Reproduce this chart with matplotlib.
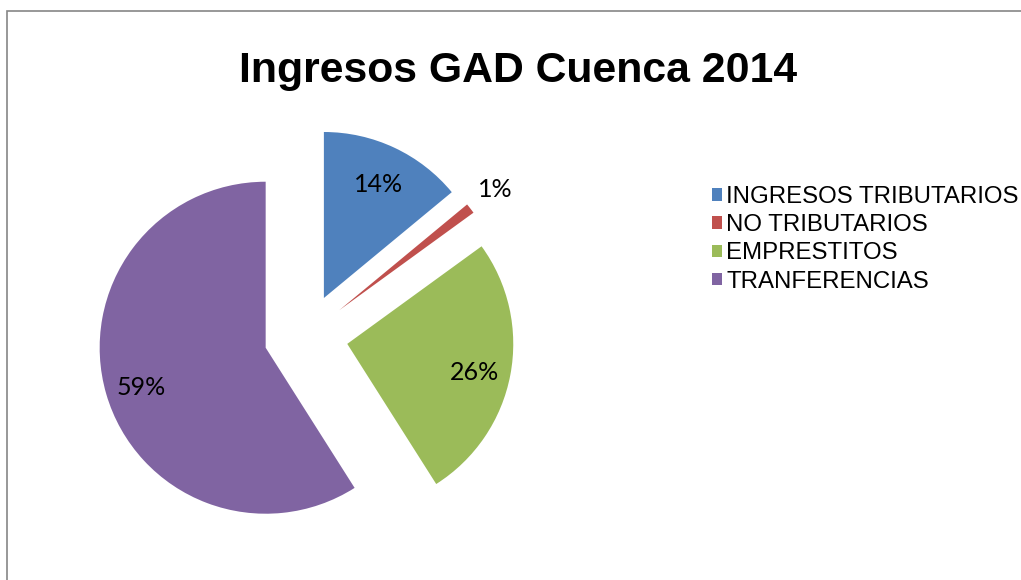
import math

import matplotlib
matplotlib.use("Agg")
import matplotlib.pyplot as plt

# data
categories = ["INGRESOS TRIBUTARIOS", "NO TRIBUTARIOS", "EMPRESTITOS", "TRANFERENCIAS"]
shares = [14, 1, 26, 59]
colors = ["#4F81BD", "#C0504D", "#9BBB59", "#8064A2"]
title = "Ingresos GAD Cuenca 2014"

W, H = 1021, 580
fig = plt.figure(figsize=(W / 100, H / 100), dpi=100)
# axes in pixel units (y measured from the bottom)
ax = fig.add_axes([0, 0, 1, 1])

radius = 166
gap = 42
wedges, _, pcts = ax.pie(
    shares,
    colors=colors,
    startangle=90,
    counterclock=False,
    center=(306, H - 336),
    radius=radius,
    explode=[gap] * len(shares),
    autopct="%1.0f%%",
    pctdistance=0.78,
    textprops=dict(fontsize=18, family=["Lato", "DejaVu Sans"], color="black"),
    wedgeprops=dict(linewidth=0),
)

# tiny slice gets its label outside, like Excel does
for w, t, v in zip(wedges, pcts, shares):
    if v < 3:
        th = math.radians((w.theta1 + w.theta2) / 2)
        cx, cy = w.center
        t.set_position((cx + 1.19 * w.r * math.cos(th), cy + 1.19 * w.r * math.sin(th)))
    else:
        x, y = t.get_position()
        t.set_position((x, y - 4))

ax.set_xlim(0, W)
ax.set_ylim(0, H)
ax.set_aspect("auto")
ax.axis("off")

ax.text(518, H - 82, title, ha="center", va="baseline", fontsize=30.8,
        fontweight="bold", family="Liberation Sans")

# chart border (left and top edges visible in the crop)
ax.plot([7, 7, W], [0, H - 11, H - 11], color="#868686", lw=1.2, solid_joinstyle="miter")

ax.legend(
    wedges,
    categories,
    loc="upper left",
    bbox_to_anchor=(712 / W, 1 - 186 / H),
    bbox_transform=fig.transFigure,
    frameon=False,
    borderpad=0,
    borderaxespad=0,
    handlelength=0.42,
    handleheight=0.42,
    handletextpad=0.18,
    labelspacing=0.26,
    prop=dict(family="Liberation Sans", size=17.3),
)

fig.savefig("out.png", dpi=100)
